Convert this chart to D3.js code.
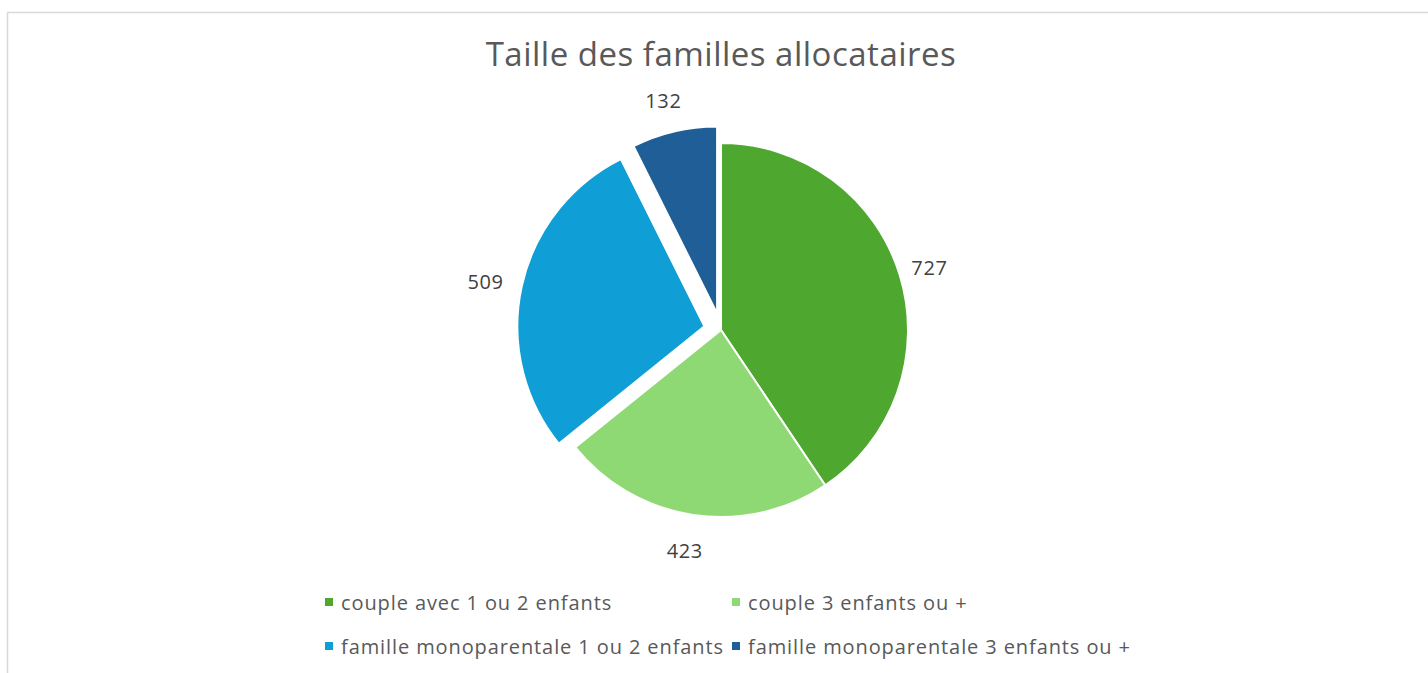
<!DOCTYPE html>
<html>
<head>
<meta charset="utf-8">
<script src="https://cdn.jsdelivr.net/npm/d3@7"></script>
<style>
  html, body { margin: 0; padding: 0; background: #fff; }
  svg { display: block; font-family: "Open Sans", Roboto, sans-serif; }
</style>
</head>
<body>
<svg id="chart" width="1428" height="673"></svg>
<script>
// Taille des familles allocataires
const categories = [
    'couple avec 1 ou 2 enfants',
    'couple 3 enfants ou +',
    'famille monoparentale 1 ou 2 enfants',
    'famille monoparentale 3 enfants ou +'
];
const values = [727, 423, 509, 132];
const colors = ['#4ea72e', '#8ed973', '#0f9ed5', '#1f5e96'];
const exploded = [0, 0, 17, 17];

const svg = d3.select('#chart');
const width = 1428, height = 673;

// chart frame (right and bottom edges fall outside the window)
svg.append('rect')
    .attr('x', 7.5).attr('y', 12.5)
    .attr('width', width + 20).attr('height', height + 20)
    .attr('fill', '#fff').attr('stroke', '#d9d9d9').attr('stroke-width', 1.5);

svg.append('text')
    .attr('x', 721).attr('y', 66)
    .attr('text-anchor', 'middle')
    .attr('font-size', 33)
    .attr('letter-spacing', 0.5)
    .attr('fill', '#595959')
    .text('Taille des familles allocataires');

const cx = 721, cy = 330, r = 187;
const data = categories.map((c, i) => ({ name: c, value: values[i], color: colors[i], off: exploded[i] }));

const pie = d3.pie().sort(null).value(d => d.value);
const arc = d3.arc().innerRadius(0).outerRadius(r);
const arcs = pie(data);

const g = svg.append('g').attr('transform', `translate(${cx},${cy})`);

const offset = d => {
    const mid = (d.startAngle + d.endAngle) / 2;
    return [Math.sin(mid) * d.data.off, -Math.cos(mid) * d.data.off];
};

g.selectAll('path.slice')
    .data(arcs)
    .join('path')
    .attr('class', 'slice')
    .attr('d', arc)
    .attr('transform', d => `translate(${offset(d)})`)
    .attr('fill', d => d.data.color)
    .attr('stroke', '#fff')
    .attr('stroke-width', 2)
    .attr('stroke-linejoin', 'round');

// data labels outside the slices
const labelArc = d3.arc().innerRadius(r + 34).outerRadius(r + 34);
g.selectAll('text.lbl')
    .data(arcs)
    .join('text')
    .attr('class', 'lbl')
    .attr('transform', d => {
        const [x, y] = labelArc.centroid(d);
        const [ox, oy] = offset(d);
        return `translate(${x + ox - 3},${y + oy + 2})`;
    })
    .attr('text-anchor', 'middle')
    .attr('dominant-baseline', 'central')
    .attr('font-size', 20)
    .attr('letter-spacing', 0.6)
    .attr('fill', '#404040')
    .text(d => d.data.value);

// legend, two columns
const legendX = [325, 732];
const legendY = [602, 646];
const legend = svg.append('g');
data.forEach((d, i) => {
    const x = legendX[i % 2], y = legendY[Math.floor(i / 2)];
    legend.append('rect')
        .attr('x', x).attr('y', y - 4)
        .attr('width', 8).attr('height', 8)
        .attr('fill', d.color);
    legend.append('text')
        .attr('x', x + 16).attr('y', y)
        .attr('dominant-baseline', 'central')
        .attr('font-size', 20)
        .attr('letter-spacing', 0.9)
        .attr('fill', '#595959')
        .text(d.name);
});
</script>
</body>
</html>
